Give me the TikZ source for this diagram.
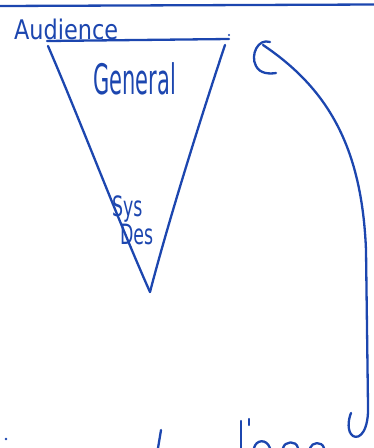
\documentclass[tikz,border=0pt]{standalone}
\usepackage{fontspec}
\setmainfont{DejaVu Sans}
\definecolor{pen}{RGB}{28,70,175}
\tikzset{
  ink/.style={draw=pen, line width=2.3pt, line cap=round, line join=round},
  hand/.style={text=pen, inner sep=0pt, transform shape}
}
\begin{document}
\begin{tikzpicture}[x=1pt, y=-1pt]
    \useasboundingbox (0,0) rectangle (374,448);
    % 1. Đường kẻ trên cùng
    \draw[ink] (0,6) -- (374,4.5);

    % 2. Tam giác ngược
    \coordinate (tl) at (47,41);
    \coordinate (tr) at (229,39);
    \coordinate (apex) at (150,292);
    \draw[ink] (tl) -- (tr);
    \draw[ink] (48,46) .. controls (80,120) and (120,225) .. (apex);
    \draw[ink] (225,45) .. controls (205,105) and (170,215) .. (apex);
    \fill[pen] (229,35) circle (1.2pt);

    % 3. Chữ
    \node[hand, font=\fontsize{27}{29}\selectfont, xscale=0.83, anchor=base west] (aud) at (14,39) {Audience};
    \node[hand, font=\fontsize{42}{44}\selectfont, xscale=0.5, anchor=base west] (gen) at (93,94) {General};
    \node[hand, font=\fontsize{28}{30}\selectfont, xscale=0.62, anchor=base west] (sys) at (112,216) {Sys};
    \node[hand, font=\fontsize{28}{30}\selectfont, xscale=0.62, anchor=base west] (des) at (120,244) {Des};

    % 4. Dấu ngoặc bên phải
    \draw[ink] (270,42) .. controls (258,38) and (250,55) .. (256,66)
        .. controls (260,74) and (270,74) .. (276,73);
    \draw[ink] (263,45) .. controls (330,90) and (362,150) .. (366,250)
        -- (368,405) .. controls (369,430) and (360,440) .. (353,436)
        .. controls (347,432) and (348,420) .. (351,413);

    % 5. Nét chữ bị cắt ở đáy
    \fill[pen] (6,439) circle (1.4pt);
    \draw[ink] (161,430) -- (158,448);
    \draw[ink] (241,421) -- (241,448);
    \draw[ink] (249,419) -- (249,425);
    \draw[ink] (254,448) .. controls (256,440) and (266,438) .. (270,448);
    \draw[ink] (283,448) .. controls (285,441) and (296,440) .. (298,448);
    \draw[ink] (310,448) .. controls (312,442) and (322,441) .. (324,448);
\end{tikzpicture}
\end{document}
